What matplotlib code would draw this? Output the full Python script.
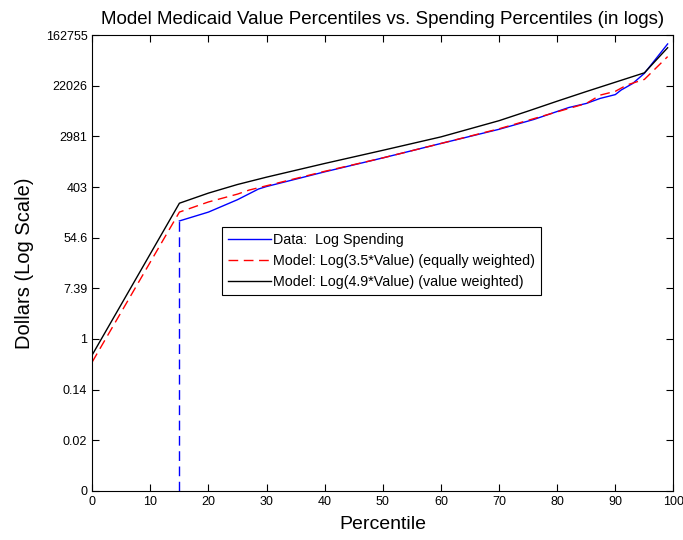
import numpy as np
import matplotlib.pyplot as plt

plt.rcParams['font.family'] = ['Liberation Sans', 'DejaVu Sans']

# log dollars by percentile
data_pct = [15, 20, 25, 28.6, 30, 40, 50, 60, 70, 76, 82, 85, 87.4, 90, 91, 93, 95, 99]
data_log = [4.66, 5.01, 5.5, 5.92, 6.02, 6.6, 7.15, 7.72, 8.28, 8.67, 9.14, 9.3, 9.5, 9.65, 9.83, 10.09, 10.49, 11.65]

eq_pct = [0, 15, 20, 25, 27, 30, 40, 50, 60, 70, 80, 85, 87.4, 90, 92, 95, 99]
eq_log = [-0.91, 5.01, 5.41, 5.72, 5.88, 6.05, 6.62, 7.15, 7.72, 8.3, 8.97, 9.3, 9.63, 9.78, 10.03, 10.25, 11.15]

vw_pct = [0, 15, 20, 25, 30, 40, 50, 60, 70, 75, 80, 85, 90, 95, 99]
vw_log = [-0.63, 5.36, 5.76, 6.1, 6.39, 6.93, 7.45, 7.98, 8.62, 9.0, 9.39, 9.77, 10.14, 10.51, 11.5]

ytick_pos = [-6, -4, -2, 0, 2, 4, 6, 8, 10, 12]
ytick_lab = ['0', '0.02', '0.14', '1', '7.39', '54.6', '403', '2981', '22026', '162755']

fig = plt.figure(figsize=(6.83, 5.4), dpi=100)
ax = fig.add_axes([0.135, 0.091, 0.851, 0.844])

ax.plot(data_pct, data_log, color='b', lw=1.0, label='Data:  Log Spending')
ax.plot(eq_pct, eq_log, color='r', lw=1.0, ls=(0, (7, 4)), label='Model: Log(3.5*Value) (equally weighted)')
ax.plot(vw_pct, vw_log, color='k', lw=1.0, label='Model: Log(4.9*Value) (value weighted)')
# zero spending below the 15th percentile
ax.plot([data_pct[0], data_pct[0]], [-6, data_log[0]], color='b', lw=1.0, ls=(0, (7, 4)))

ax.set_xlim(0, 100)
ax.set_ylim(-6, 12)
ax.set_xticks(range(0, 101, 10))
ax.set_yticks(ytick_pos)
ax.set_yticklabels(ytick_lab)
ax.tick_params(direction='in', top=True, right=True, length=5, labelsize=9)

ax.set_title('Model Medicaid Value Percentiles vs. Spending Percentiles (in logs)', fontsize=13.5, pad=8)
ax.set_xlabel('Percentile', fontsize=14, labelpad=6)
ax.set_ylabel('Dollars (Log Scale)', fontsize=14.5, labelpad=8)

leg = ax.legend(loc='upper left', bbox_to_anchor=(0.224, 0.578), fontsize=10.3,
                fancybox=False, edgecolor='k', framealpha=1, handlelength=3.0,
                handletextpad=0.15, borderpad=0.4, labelspacing=0.48, borderaxespad=0)
leg.get_frame().set_linewidth(0.8)

plt.savefig('out.png')
